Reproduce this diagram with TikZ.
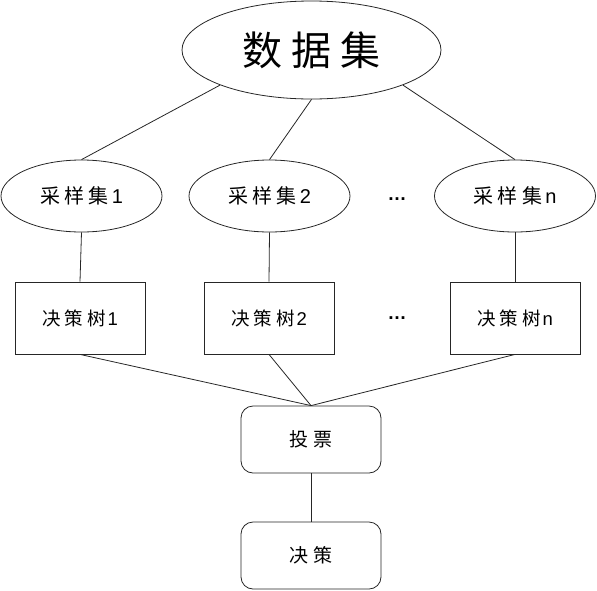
\documentclass[tikz,border=0pt]{standalone}
\usepackage{fontspec}
\setmainfont{Liberation Sans}
\newfontfamily\cjk{Noto Sans CJK SC}[LetterSpace=22]
\usetikzlibrary{shapes.geometric}
\tikzset{
  conn/.style={draw=black!85, line width=0.8pt},
  bigell/.style={ellipse, draw=black!85, line width=0.8pt, minimum width=259pt, minimum height=98pt, inner sep=0pt, font=\fontsize{40}{42}\selectfont},
  smallell/.style={ellipse, draw=black!85, line width=0.8pt, minimum width=161pt, minimum height=72pt, inner sep=0pt, font=\fontsize{20}{22}\selectfont},
  treebox/.style={rectangle, draw=black!85, line width=0.8pt, minimum width=130pt, minimum height=72pt, inner sep=0pt, font=\fontsize{18.5}{20}\selectfont},
  roundbox/.style={rectangle, rounded corners=12pt, draw=black!85, line width=0.8pt, minimum width=140pt, minimum height=67pt, inner sep=0pt, font=\fontsize{19}{21}\selectfont},
  dotsnode/.style={inner sep=0pt, font=\fontsize{19}{21}\selectfont\bfseries}
}
\begin{document}
\begin{tikzpicture}[x=1pt,y=-1pt]
\useasboundingbox (0,0) rectangle (597,590);
\node[bigell] (big) at (311.5,50) {\cjk 数据集};
\node[smallell] (s1) at (81.5,196) {{\cjk 采样集}\kern3pt 1};
\node[smallell] (s2) at (269.5,196) {{\cjk 采样集}\kern3pt 2};
\node[smallell] (s3) at (515,196) {{\cjk 采样集}\kern3pt n};
\node[dotsnode] (d1) at (397,199) {…};
\node[treebox] (t1) at (80,318) {{\cjk 决策树}\kern2pt 1};
\node[treebox] (t2) at (269,318) {{\cjk 决策树}\kern2pt 2};
\node[treebox] (t3) at (515,318) {{\cjk 决策树}\kern2pt n};
\node[dotsnode] (d2) at (397,318) {…};
\node[roundbox] (vote) at (311,439.5) {\cjk 投票};
\node[roundbox] (dec) at (311,555.5) {\cjk 决策};
\draw[conn] (big.201) -- (s1.north);
\draw[conn] (big.south) -- (s2.north);
\draw[conn] (big.339) -- (s3.north);
\draw[conn] (s1.south) -- (t1.north);
\draw[conn] (s2.south) -- (t2.north);
\draw[conn] (s3.south) -- (t3.north);
\draw[conn] (t1.south) -- (vote.north);
\draw[conn] (t2.south) -- (vote.north);
\draw[conn] (t3.south) -- (vote.north);
\draw[conn] (vote.south) -- (dec.north);
\end{tikzpicture}
\end{document}
